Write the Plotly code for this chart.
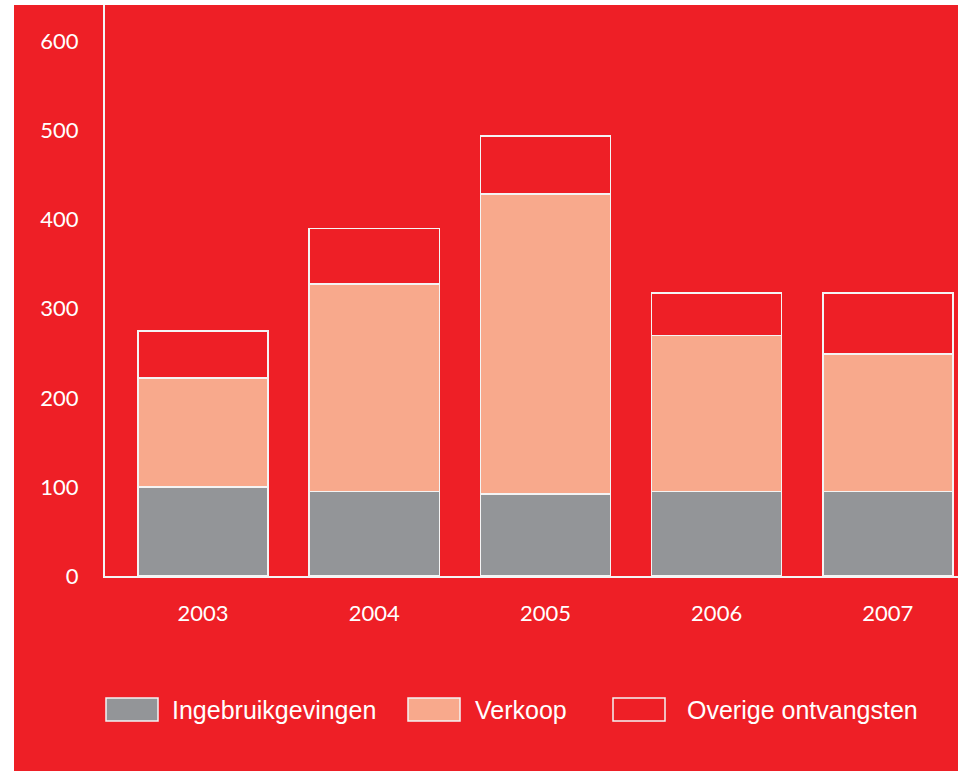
import plotly.graph_objects as go

# DATA
years = ["2003", "2004", "2005", "2006", "2007"]
ingebruik = [100, 95, 92, 95, 95]
verkoop = [122, 233, 337, 175, 154]
overige = [53, 62, 65, 48, 69]

series_names = ["Ingebruikgevingen", "Verkoop", "Overige ontvangsten"]
RED = "#EE1F26"
COLORS = ["#939598", "#F8A98C", RED]

W, H = 958, 771
L, T, B = 105, 5, 195
PW, PH = W - L, H - T - B


def px_x(px):
    # page pixel -> paper x
    return (px - L) / PW


def px_y(py):
    # page pixel -> paper y
    return (H - B - py) / PH


fig = go.Figure()
for name, vals, col in zip(series_names, [ingebruik, verkoop, overige], COLORS):
    fig.add_trace(go.Bar(
        x=years, y=vals, name=name,
        marker=dict(color=col, line=dict(color="#F4F4F4", width=1.6)),
        showlegend=False,
    ))

shapes = [
    # red panel behind everything
    dict(type="rect", xref="paper", yref="paper", layer="below",
         x0=px_x(14), x1=1.01, y0=px_y(900), y1=1,
         fillcolor=RED, line=dict(width=0)),
]
annotations = []

# hand-made legend with wide swatches
leg_sw = [106, 408, 613]
leg_tx = [170, 473, 685]
for name, col, sx, tx in zip(series_names, COLORS, leg_sw, leg_tx):
    shapes.append(dict(type="rect", xref="paper", yref="paper",
                       x0=px_x(sx), x1=px_x(sx + 52), y0=px_y(698), y1=px_y(721),
                       fillcolor=col, line=dict(color="#F4F4F4", width=1.5)))
    annotations.append(dict(xref="paper", yref="paper", x=px_x(tx), y=px_y(710),
                            xanchor="left", yanchor="middle", showarrow=False,
                            text=name,
                            font=dict(family="Liberation Sans", size=25,
                                      color="white")))

fig.update_layout(
    width=W, height=H,
    margin=dict(l=L, r=0, t=T, b=B),
    paper_bgcolor="white",
    plot_bgcolor=RED,
    barmode="stack",
    bargap=0.24,
    shapes=shapes,
    annotations=annotations,
    font=dict(family="Lato", color="white", size=22),
    xaxis=dict(range=[-0.573, 4.41], showgrid=False, showline=True,
               linecolor="#F4F4F4", linewidth=2, ticks="",
               ticklabelstandoff=17, tickfont=dict(size=22, color="white")),
    yaxis=dict(range=[0, 641], showgrid=False, zeroline=False, showline=True,
               linecolor="#F4F4F4", linewidth=2, ticks="",
               tickvals=[0, 100, 200, 300, 400, 500, 600],
               ticklabelstandoff=20, tickfont=dict(size=22, color="white")),
)

# drop the browser's default page margin so the figure fills the window
fig.write_html("out.html", config={"displayModeBar": False},
               post_script="document.body.style.margin='0';"
                           "document.documentElement.style.overflow='hidden';")
